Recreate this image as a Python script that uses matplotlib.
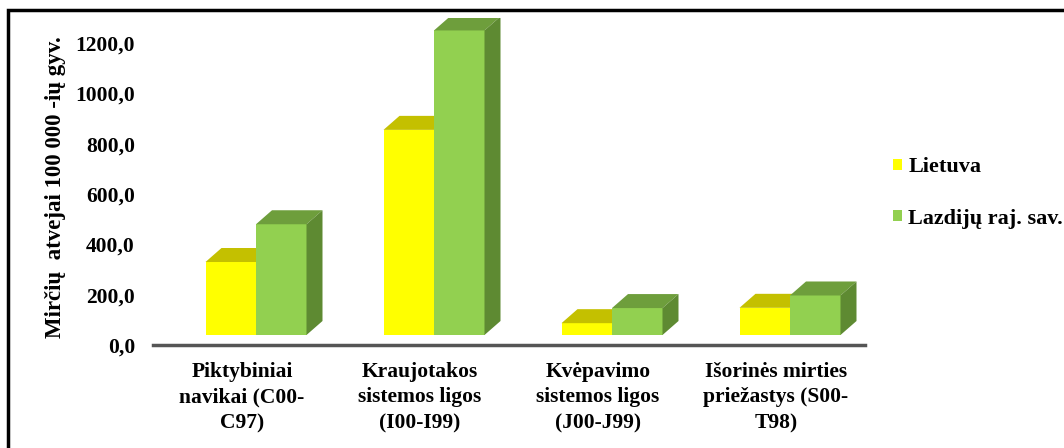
import matplotlib
matplotlib.use('Agg')
import matplotlib.pyplot as plt
from matplotlib.patches import Polygon, Patch, Rectangle

plt.rcParams['font.family'] = ['Liberation Serif', 'DejaVu Serif']
plt.rcParams['font.weight'] = 'bold'

# Data
categories = ['Piktybiniai\nnavikai (C00-\nC97)',
              'Kraujotakos\nsistemos ligos\n(I00-I99)',
              'Kvėpavimo\nsistemos ligos\n(J00-J99)',
              'Išorinės mirties\npriežastys (S00-\nT98)']
lietuva = [290, 815, 47, 108]
lazdijai = [440, 1210, 107, 157]
series_names = ['Lietuva', 'Lazdijų raj. sav.']
yticks = [0, 200, 400, 600, 800, 1000, 1200]
ytick_labels = ['0,0', '200,0', '400,0', '600,0', '800,0', '1000,0', '1200,0']
ylabel = 'Mirčių  atvejai 100 000 -ių gyv.'

# colours: front, top, side
colors = [('#FFFF00', '#C4C000', '#A8A800'),
          ('#92D050', '#6E9E3C', '#5E8A32')]

W, H = 1064, 448
fig = plt.figure(figsize=(W / 100, H / 100), dpi=100)
ax = fig.add_axes([153 / W, 103 / H, 712 / W, 327.2 / H])
ax.set_xlim(-0.5, 3.5)
ax.set_ylim(0, 1300)

# pixel -> data conversion for the fake 3D depth
px_x = 4 / 712
px_y = 1300 / 327.2
bar_w = 50.5 * px_x
shift_x = 14 * px_x     # front face shifted right of category centre
floor = 10 * px_y       # floor of the bars sits above the axis line
dx = 16 * px_x
dy = 14 * px_y

z = 2
for i in range(len(categories)):
    for s, vals in enumerate([lietuva, lazdijai]):
        front, top, side = colors[s]
        left = i + shift_x - bar_w + s * bar_w
        v = vals[i]
        t = floor + v
        ax.bar(left, v, width=bar_w, bottom=floor, align='edge',
               color=front, edgecolor='none', zorder=z)
        ax.add_patch(Polygon([(left, t), (left + bar_w, t),
                              (left + bar_w + dx, t + dy), (left + dx, t + dy)],
                             closed=True, facecolor=top, edgecolor='none', zorder=z))
        ax.add_patch(Polygon([(left + bar_w, floor), (left + bar_w + dx, floor + dy),
                              (left + bar_w + dx, t + dy), (left + bar_w, t)],
                             closed=True, facecolor=side, edgecolor='none', zorder=z))
        z += 1

for sp in ['top', 'right', 'left']:
    ax.spines[sp].set_visible(False)
ax.spines['bottom'].set_color('#555555')
ax.spines['bottom'].set_linewidth(2.5)

ax.set_xticks(range(len(categories)))
ax.set_xticklabels(categories, fontsize=15.5, fontweight='bold', linespacing=1.38)
ax.set_yticks(yticks)
ax.set_yticklabels(ytick_labels, fontsize=15.5, fontweight='bold')
ax.tick_params(axis='both', length=0)
ax.tick_params(axis='x', pad=12)
ax.tick_params(axis='y', pad=13)

fig.text(55 / W, 1 - 187 / H, ylabel, rotation=90, ha='center', va='center',
         fontsize=16.5, fontweight='bold')

handles = [Patch(facecolor=colors[0][0], edgecolor='none'),
           Patch(facecolor=colors[1][0], edgecolor='none')]
fig.legend(handles, series_names, loc='center left',
           bbox_to_anchor=(893 / W, 1 - 193 / H), frameon=False,
           borderaxespad=0, borderpad=0,
           prop={'size': 16, 'weight': 'bold'}, handlelength=0.42,
           handleheight=0.42, handletextpad=0.27, labelspacing=1.4)

# chart border (left and top visible, rest cropped)
fig.patches.append(Rectangle((8 / W, -0.2), 1.2, 1 - 10 / H + 0.2,
                             transform=fig.transFigure, fill=False,
                             edgecolor='black', linewidth=2.5))

fig.savefig('out.png', dpi=100)
